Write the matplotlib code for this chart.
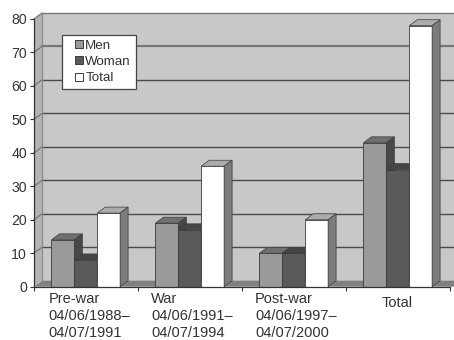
import matplotlib
matplotlib.use('Agg')
import matplotlib.pyplot as plt
from matplotlib.lines import Line2D
from matplotlib.patches import Polygon

plt.rcParams['font.family'] = ['Liberation Sans', 'DejaVu Sans']

periods = ['Pre-war\n04/06/1988\u2013\n04/07/1991', 'War\n04/06/1991\u2013\n04/07/1994',
           'Post-war\n04/06/1997\u2013\n04/07/2000', 'Total']
men = [14, 19, 10, 43]
woman = [8, 17, 10, 35]
total = [22, 36, 20, 78]

W, H = 454, 340
fig = plt.figure(figsize=(W / 100, H / 100), dpi=100)
ax = fig.add_axes([34 / W, (H - 286.7) / H, 416 / W, 267.7 / H])
ax.set_xlim(0, 4)
ax.set_ylim(0, 80)

# fake 3d depth, in data units (8 px across, 6 px up)
dx = 8 / 104
dy = 6 / 3.346
txt = '#333333'

# walls and floor
ax.add_patch(Polygon([(dx, dy), (4.2, dy), (4.2, 80 + dy), (dx, 80 + dy)], fc='#c8c8c8', ec='none', clip_on=False, zorder=1))
ax.add_patch(Polygon([(0, 0), (dx, dy), (dx, 80 + dy), (0, 80)], fc='#b4b4b4', ec='none', clip_on=False, zorder=1))
ax.add_patch(Polygon([(0, 0), (dx, dy), (4.2, dy), (4.2, 0)], fc='#808080', ec='none', clip_on=False, zorder=1.5))

for v in range(10, 90, 10):
    col = '#777777' if v in (70, 80) else '#4a4a4a'
    lw = 1.6 if v == 70 else 1.0
    ax.plot([dx, 4.2], [v + dy, v + dy], color=col, lw=lw, clip_on=False, zorder=1.2)
    ax.plot([0, dx], [v, v + dy], color='#777777', lw=0.9, clip_on=False, zorder=1.2)
ax.plot([dx, dx], [dy, 80 + dy], color='#8a8a8a', lw=0.9, zorder=1.2, clip_on=False)


def bar3d(x, h, w, front, top, side, z):
    ax.bar(x, h, w, align='edge', color=front, edgecolor='#3c3c3c', linewidth=0.6, zorder=z)
    ax.add_patch(Polygon([(x, h), (x + dx, h + dy), (x + w + dx, h + dy), (x + w, h)],
                         fc=top, ec='#3c3c3c', lw=0.5, zorder=z, clip_on=False))
    ax.add_patch(Polygon([(x + w, 0), (x + w + dx, dy), (x + w + dx, h + dy), (x + w, h)],
                         fc=side, ec='#3c3c3c', lw=0.5, zorder=z, clip_on=False))


bw = 0.22
start = 0.168
for i in range(len(periods)):
    bar3d(i + start, men[i], bw, '#999999', '#707070', '#484848', 3 + i)
    bar3d(i + start + bw, woman[i], bw, '#5a5a5a', '#454545', '#3a3a3a', 3.1 + i)
    bar3d(i + start + 2 * bw, total[i], bw, '#ffffff', '#ababab', '#7c7c7c', 3.2 + i)

for s in ('top', 'right'):
    ax.spines[s].set_visible(False)
for s in ('left', 'bottom'):
    ax.spines[s].set_color('#333333')
    ax.spines[s].set_linewidth(0.9)
    ax.spines[s].set_zorder(10)

ax.set_yticks(range(0, 90, 10))
ax.set_xticks(range(0, 5))
ax.set_xticklabels([])
ax.tick_params(axis='both', length=3, width=0.8, color='#333333', labelcolor=txt, labelsize=10.2, pad=2)

label_shift = [0.034, 0.018, 0.018, -0.01]
label_drop = [-4, -4, -4, -6.5]
for i, lab in enumerate(periods):
    ax.annotate(lab, (i + 0.5 + label_shift[i], 0), xytext=(0, label_drop[i]), textcoords='offset points',
                ha='center', va='top', multialignment='left', fontsize=10.5, color=txt,
                linespacing=1.28, annotation_clip=False)

handles = [Line2D([], [], ls='none', marker='s', ms=6, mfc=c, mec='#3c3c3c', mew=0.7, label=n)
           for n, c in zip(['Men', 'Woman', 'Total'], ['#999999', '#5a5a5a', '#ffffff'])]
leg = ax.legend(handles=handles, loc='upper left', bbox_to_anchor=(28 / 416, 252 / 267.7), borderaxespad=0,
                fontsize=9.6, fancybox=False, framealpha=1, edgecolor='#444444', labelcolor=txt,
                handlelength=1.85, handletextpad=-0.45, borderpad=0.35, labelspacing=0.3, numpoints=1)
leg.set_zorder(20)
leg.get_frame().set_linewidth(0.9)

fig.savefig('out.png', dpi=100)
